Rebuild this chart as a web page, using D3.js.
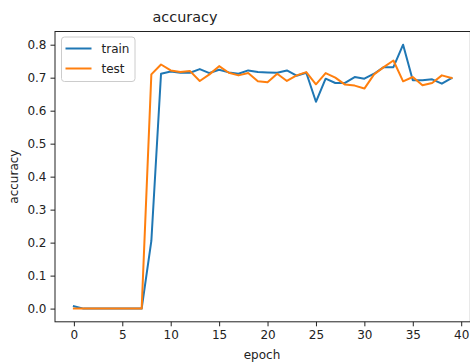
<!DOCTYPE html>
<html>
<head>
<meta charset="utf-8">
<script src="https://cdn.jsdelivr.net/npm/d3@7"></script>
<style>
  html, body { margin: 0; padding: 0; background: #fff; }
  svg { display: block; font-family: "DejaVu Sans", sans-serif; }
</style>
</head>
<body>
<svg id="chart" width="470" height="363"></svg>
<script>
// Data
const epochs = d3.range(0, 40);
const trainAcc = [
  0.007, 0.0, 0.0, 0.0, 0.0, 0.0, 0.0, 0.0, 0.205, 0.712,
  0.719, 0.715, 0.715, 0.726, 0.714, 0.724, 0.716, 0.712, 0.722, 0.717,
  0.716, 0.715, 0.722, 0.706, 0.715, 0.627, 0.697, 0.684, 0.684, 0.702,
  0.697, 0.712, 0.732, 0.732, 0.8, 0.692, 0.692, 0.695, 0.682, 0.699
];
const testAcc = [
  0.0, 0.0, 0.0, 0.0, 0.0, 0.0, 0.0, 0.0, 0.71, 0.74,
  0.722, 0.717, 0.72, 0.69, 0.71, 0.735, 0.715, 0.707, 0.714, 0.689,
  0.686, 0.712, 0.69, 0.707, 0.717, 0.68, 0.714, 0.7, 0.679, 0.676,
  0.667, 0.71, 0.732, 0.752, 0.689, 0.702, 0.677, 0.684, 0.707, 0.699
];
const xTicks = [0, 5, 10, 15, 20, 25, 30, 35, 40];
const yTicks = [0.0, 0.1, 0.2, 0.3, 0.4, 0.5, 0.6, 0.7, 0.8];
const seriesNames = ['train', 'test'];
const seriesColors = ['#1f77b4', '#ff7f0e'];

const width = 470;
const height = 363;
const padding = { left: 55, top: 31.5, right: -0.4, bottom: 41.2 };
const textColor = '#222';

const svg = d3.select('#chart');
const plotW = width - padding.left - padding.right;
const plotH = height - padding.top - padding.bottom;

// matplotlib-like 5% margins around the data
const pad = (lo, hi) => [lo - (hi - lo) * 0.05, hi + (hi - lo) * 0.05];
const yAll = trainAcc.concat(testAcc);

const xScale = d3.scaleLinear()
  .domain(pad(d3.min(epochs), d3.max(epochs)))
  .range([0, plotW]);

const yScale = d3.scaleLinear()
  .domain(pad(d3.min(yAll), d3.max(yAll)))
  .range([plotH, 0]);

const g = svg.append('g')
  .attr('transform', `translate(${padding.left},${padding.top})`);

// Lines
const line = d3.line()
  .x((d, i) => xScale(epochs[i]))
  .y(d => yScale(d));

[trainAcc, testAcc].forEach((values, k) => {
  g.append('path')
    .datum(values)
    .attr('d', line)
    .attr('fill', 'none')
    .attr('stroke', seriesColors[k])
    .attr('stroke-width', 2)
    .attr('stroke-linejoin', 'round')
    .attr('stroke-linecap', 'square');
});

// Axes
const xAxis = d3.axisBottom(xScale)
  .tickValues(xTicks)
  .tickFormat(d3.format('d'))
  .tickSizeInner(4.5)
  .tickSizeOuter(0)
  .tickPadding(4);

const yAxis = d3.axisLeft(yScale)
  .tickValues(yTicks)
  .tickFormat(d3.format('.1f'))
  .tickSizeInner(4.5)
  .tickSizeOuter(0)
  .tickPadding(4);

const xg = g.append('g')
  .attr('transform', `translate(0,${plotH})`)
  .call(xAxis);
const yg = g.append('g').call(yAxis);

[xg, yg].forEach(ax => {
  ax.select('.domain').remove();
  ax.selectAll('line').attr('stroke', textColor).attr('stroke-width', 1);
  ax.selectAll('text')
    .attr('fill', textColor)
    .attr('font-size', '12px')
    .attr('font-family', '"DejaVu Sans", sans-serif');
});

// Frame
g.append('rect')
  .attr('x', 0)
  .attr('y', 0)
  .attr('width', plotW)
  .attr('height', plotH)
  .attr('fill', 'none')
  .attr('stroke', textColor)
  .attr('stroke-width', 1);

// Title and axis labels
svg.append('text')
  .attr('x', 185)
  .attr('y', 22)
  .attr('text-anchor', 'middle')
  .attr('font-size', '14.4px')
  .attr('fill', textColor)
  .text('accuracy');

svg.append('text')
  .attr('x', padding.left + 207)
  .attr('y', 358.5)
  .attr('text-anchor', 'middle')
  .attr('font-size', '12px')
  .attr('fill', textColor)
  .text('epoch');

svg.append('text')
  .attr('transform', `translate(18,${padding.top + plotH / 2}) rotate(-90)`)
  .attr('text-anchor', 'middle')
  .attr('font-size', '12px')
  .attr('fill', textColor)
  .text('accuracy');

// Legend
const legend = svg.append('g').attr('transform', 'translate(61.5,37)');
legend.append('rect')
  .attr('width', 73.5)
  .attr('height', 44.5)
  .attr('rx', 3)
  .attr('fill', '#fff')
  .attr('fill-opacity', 0.8)
  .attr('stroke', '#cccccc')
  .attr('stroke-width', 1);

seriesNames.forEach((name, k) => {
  const yy = 11.5 + k * 20;
  legend.append('line')
    .attr('x1', 4)
    .attr('x2', 30)
    .attr('y1', yy)
    .attr('y2', yy)
    .attr('stroke', seriesColors[k])
    .attr('stroke-width', 2);
  legend.append('text')
    .attr('x', 40)
    .attr('y', yy + 4.5)
    .attr('font-size', '12px')
    .attr('fill', textColor)
    .text(name);
});
</script>
</body>
</html>
